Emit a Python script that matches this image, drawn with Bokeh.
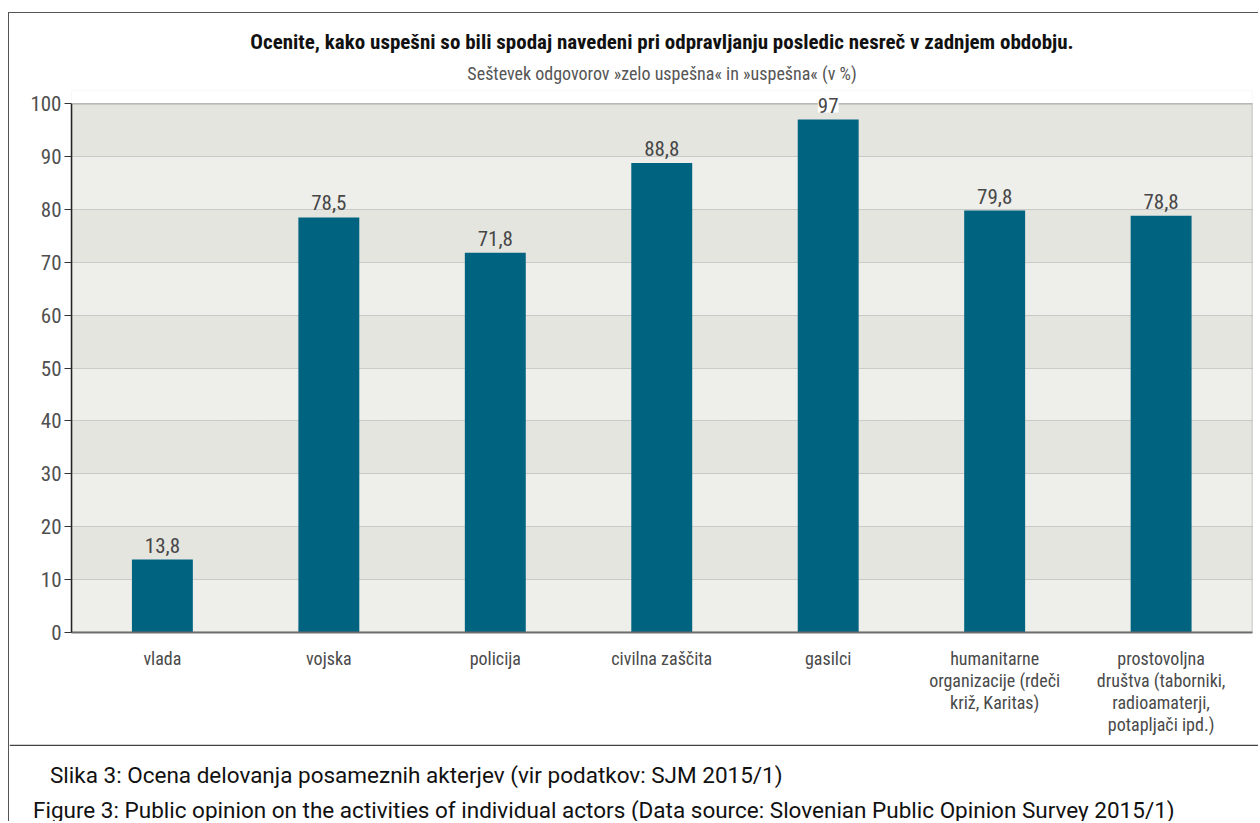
from bokeh.plotting import figure
from bokeh.models import (ColumnDataSource, Range1d, FixedTicker, LabelSet, Title,
                          Span, Label, BoxAnnotation)
from bokeh.core.properties import value
from bokeh.embed import file_html
from bokeh.resources import INLINE

# ---- data ----
categories = ["vlada", "vojska", "policija", "civilna zaščita", "gasilci",
              "humanitarne organizacije (rdeči križ, Karitas)",
              "prostovoljna društva (taborniki, radioamaterji, potapljači ipd.)"]
tick_labels = ["vlada", "vojska", "policija", "civilna zaščita", "gasilci",
               "humanitarne\norganizacije (rdeči\nkriž, Karitas)",
               "prostovoljna\ndruštva (taborniki,\nradioamaterji,\npotapljači ipd.)"]
values = [13.8, 78.5, 71.8, 88.8, 97, 79.8, 78.8]
y_ticks = [0, 10, 20, 30, 40, 50, 60, 70, 80, 90, 100]

title_text = "Ocenite, kako uspešni so bili spodaj navedeni pri odpravljanju posledic nesreč v zadnjem obdobju."
subtitle_text = "Seštevek odgovorov »zelo uspešna« in »uspešna« (v %)"
caption_sl = "Slika 3: Ocena delovanja posameznih akterjev (vir podatkov: SJM 2015/1)"
caption_en = "Figure 3: Public opinion on the activities of individual actors (Data source: Slovenian Public Opinion Survey 2015/1)"

NARROW = "Roboto Condensed"
CAPFONT = "Roboto"
BORDER = "1.5px solid #555555"

idx = list(range(len(categories)))
labels = [("%g" % v).replace(".", ",") for v in values]
bg = ["white" if v >= 95 else None for v in values]
src = ColumnDataSource(dict(x=idx, top=values, label=labels, bg=bg))

W = 1250
p = figure(width=W, height=732, output_backend="svg", toolbar_location=None,
           x_range=Range1d(-0.546, 6.549), y_range=Range1d(0, 102.5),
           min_border_left=62, min_border_right=7, min_border_top=77,
           min_border_bottom=113)
p.styles = {"margin-left": "8px", "margin-top": "12px",
            "border-left": BORDER, "border-top": BORDER}
p.background_fill_color = "#EEEEEA"
p.border_fill_color = "white"
p.outline_line_color = None

p.ygrid.ticker = FixedTicker(ticks=y_ticks)
p.ygrid.grid_line_color = "#A8A8A8"
p.ygrid.grid_line_dash = "1 1"
p.ygrid.band_fill_color = "#E5E5E0"
p.ygrid.band_fill_alpha = 1.0
p.xgrid.grid_line_color = None

p.vbar(x="x", top="top", width=0.366, source=src, fill_color="#006380",
       line_color=None)

# white area above 100 and frame border of the 0..100 area
p.add_layout(BoxAnnotation(bottom=100, fill_color="white", fill_alpha=1.0,
                           line_color=None))
p.add_layout(BoxAnnotation(bottom=0, top=100, fill_color=None,
                           line_color="#333333", line_width=1.5))

try:
    ls = LabelSet(x="x", y="top", text="label", source=src, text_align="center",
                  text_baseline="alphabetic", y_offset=7,
                  text_font=value(NARROW), text_font_size="21px",
                  text_color="#474747", background_fill_color="bg")
except Exception:
    ls = LabelSet(x="x", y="top", text="label", source=src, text_align="center",
                  text_baseline="alphabetic", y_offset=7,
                  text_font=value(NARROW), text_font_size="21px",
                  text_color="#474747")
p.add_layout(ls)

# axes
p.xaxis.ticker = FixedTicker(ticks=idx)
p.xaxis.major_label_overrides = {i: t for i, t in zip(idx, tick_labels)}
p.xaxis.major_tick_line_color = None
p.xaxis.minor_tick_line_color = None
p.xaxis.axis_line_color = "#777777"
p.xaxis.axis_line_width = 2
p.xaxis.major_label_text_font = NARROW
p.xaxis.major_label_text_font_size = "18px"
p.xaxis.major_label_text_line_height = 1.05
p.xaxis.major_label_text_color = "#4a4a4a"
p.xaxis.major_label_standoff = 9

p.yaxis.ticker = FixedTicker(ticks=y_ticks)
p.yaxis.bounds = (0, 100)
p.yaxis.minor_tick_line_color = None
p.yaxis.major_tick_out = 7
p.yaxis.major_tick_in = 0
p.yaxis.major_tick_line_color = "#333333"
p.yaxis.axis_line_color = "#222222"
p.yaxis.axis_line_width = 1.5
p.yaxis.major_label_text_font = NARROW
p.yaxis.major_label_text_font_size = "21px"
p.yaxis.major_label_text_color = "#4f4f4f"
p.yaxis.major_label_standoff = 3

p.add_layout(Title(text=subtitle_text, align="center", text_font=NARROW,
                   text_font_size="18px", text_font_style="normal",
                   text_color="#555555", standoff=13), "above")
p.add_layout(Title(text=title_text, align="center", text_font=NARROW,
                   text_font_size="21px", text_font_style="bold",
                   text_color="#111111", standoff=1), "above")

# caption figure (separate root, so its frame is not aligned to the chart)
CH = 77
cap = figure(width=W, height=CH, output_backend="svg", toolbar_location=None,
             x_range=Range1d(0, W), y_range=Range1d(0, CH),
             x_axis_location=None, y_axis_location=None,
             min_border=0)
cap.styles = {"margin-left": "8px", "border-left": BORDER}
cap.grid.visible = False
cap.outline_line_color = None
cap.background_fill_color = "white"
cap.border_fill_color = "white"
cap.add_layout(Span(location=CH - 0.75, dimension="width", line_color="#444444",
                    line_width=1.5))
cap.add_layout(Label(x=40.5, y=47, text=caption_sl, text_font=CAPFONT,
                     text_baseline="alphabetic",
                     text_font_size="22.5px", text_color="#111111"))
cap.add_layout(Label(x=23.5, y=12, text=caption_en, text_font=CAPFONT,
                     text_baseline="alphabetic",
                     text_font_size="22.5px", text_color="#111111"))

open("out.html", "w").write(file_html([p, cap], INLINE))
